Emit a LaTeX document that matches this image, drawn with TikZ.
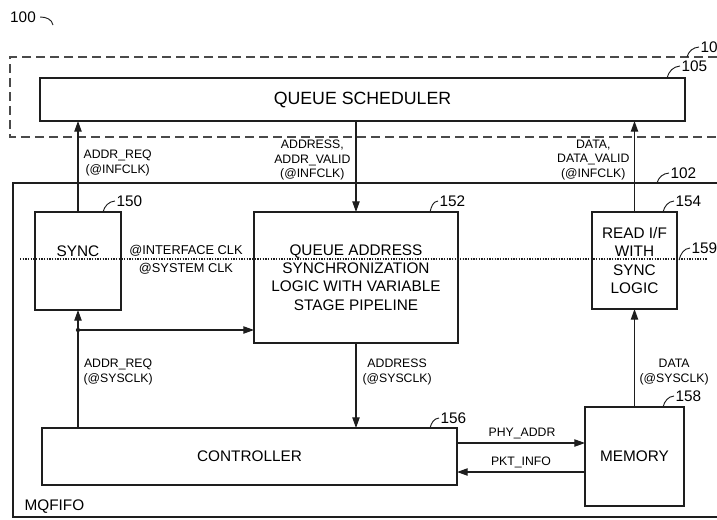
\documentclass[tikz,border=0pt]{standalone}
\usepackage{fontspec}
\setmainfont{Liberation Sans}
\usepackage{xcolor}
\definecolor{cLine}{HTML}{1E1E1E}
\definecolor{cFrame}{HTML}{4A4A4A}
\usetikzlibrary{arrows.meta}
\tikzset{
  node-box/.style={draw=cLine,line width=1.1pt,inner sep=0pt,outer sep=0pt,
    align=center,font=\fontsize{11.5}{13.8}\selectfont},
  node-text/.style={inner sep=1pt,align=center,font=\fontsize{11.5}{13.8}\selectfont},
  sz/.style 2 args={minimum width=#1*0.75pt,minimum height=#2*0.75pt},
  sig/.style={inner sep=1pt,align=center,font=\fontsize{9.2}{10.6}\selectfont},
  ref/.style={inner sep=1pt,font=\fontsize{11.5}{13.8}\selectfont},
  arrow/.style={-{Triangle[length=8pt,width=5.5pt]},line width=0.9pt,draw=cLine},
  leader/.style={line width=0.7pt,draw=cLine},
  frame/.style={line width=1.1pt,draw=cLine},
  frame-dash/.style={line width=1.1pt,draw=cFrame,dash pattern=on 6.5pt off 4pt},
  clockline/.style={line width=1.3pt,draw=cLine,dash pattern=on 1pt off 1pt},
}

\begin{document}
\begin{tikzpicture}[x=0.75pt,y=-0.75pt]
  \useasboundingbox (0,0) rectangle (717,519);
  % frames, both run off the right edge
  \draw[frame-dash] (717,57) -- (10,57) -- (10,137) -- (717,137);
  \draw[frame] (717,183) -- (13,183) -- (13,517) -- (717,517);
  \node[sig,anchor=west,font=\fontsize{11.5}{13.8}\selectfont] (mqfifo) at (23,507) {MQFIFO};

  % blocks
  \node[node-box,sz={645}{43},font=\fontsize{13.3}{16}\selectfont] (sched) at (362.5,99.5) {QUEUE SCHEDULER};
  \node[node-box,sz={86}{98}] (sync) at (78,261) {};
  \node[node-text] (sync-txt) at (78,251) {SYNC};
  \node[node-box,sz={204}{131}] (qasl) at (356,277.5)
    {QUEUE ADDRESS\\SYNCHRONIZATION\\LOGIC WITH VARIABLE\\STAGE PIPELINE};
  \node[node-box,sz={85}{97}] (readif) at (634.5,260.5) {READ I/F\\WITH\\SYNC\\LOGIC};
  \node[node-box,sz={415}{57}] (ctrl) at (249.5,456.5) {CONTROLLER};
  \node[node-box,sz={99}{99}] (mem) at (634.5,456.5) {MEMORY};

  % interface / system clock boundary
  \draw[clockline] (20,259) -- (707,259);
  \node[sig,font=\fontsize{9.6}{11}\selectfont] (infclk) at (186,251) {@INTERFACE CLK};
  \node[sig,font=\fontsize{9.6}{11}\selectfont] (sysclk) at (186,269) {@SYSTEM CLK};

  % signals
  \draw[arrow] (sync.north) -- (sync.north |- sched.south);
  \draw[arrow] (qasl.north |- sched.south) -- (qasl.north);
  \draw[arrow] (readif.north) -- (readif.north |- sched.south);
  \draw[arrow] (sync.south |- ctrl.north) -- (sync.south);
  \coordinate (split) at (78,330);
  \fill[cLine] (split) circle[radius=1.6pt];
  \draw[arrow] (split) -- (split -| qasl.west);
  \draw[arrow] (qasl.south) -- (qasl.south |- ctrl.north);
  \draw[arrow] (mem.north) -- (mem.north |- readif.south);
  \draw[arrow] (ctrl.east |- 0,443) -- (mem.west |- 0,443);
  \draw[arrow] (mem.west |- 0,472) -- (ctrl.east |- 0,472);

  \node[sig,anchor=west] (l-req-inf) at (82,163) {ADDR\_REQ\\(@INFCLK)};
  \node[sig,anchor=east] (l-addr-inf) at (352,160) {ADDRESS,\\ADDR\_VALID\\(@INFCLK)};
  \node[sig,anchor=east] (l-data-inf) at (631,160) {DATA,\\DATA\_VALID\\(@INFCLK)};
  \node[sig,anchor=west] (l-req-sys) at (82,372) {ADDR\_REQ\\(@SYSCLK)};
  \node[sig,anchor=west] (l-addr-sys) at (361,372) {ADDRESS\\(@SYSCLK)};
  \node[sig,anchor=west] (l-data-sys) at (638,372) {DATA\\(@SYSCLK)};
  \node[sig] (l-phy) at (522,433) {PHY\_ADDR};
  \node[sig] (l-pkt) at (521,462) {PKT\_INFO};

  % reference numerals
  \node[ref] (r100) at (23,17) {100};
  \draw[leader] ([xshift=2pt]r100.east) to[out=0,in=100] (53,25);
  \foreach \num/\sx/\sy/\tx/\ty in {10/687/57/699/47, 105/667/78/680/66,
      102/657/183/669/173, 150/103/212/115/201, 152/430/212/438/201,
      154/663/212/674/201, 156/430/428/439/418, 158/663/407/674/396,
      159/679/260/690/248} {
    \node[ref,anchor=west] (r\num) at (\tx,\ty) {\num};
    \draw[leader] (\sx,\sy) to[out=75,in=185] (r\num.west);
  }
\end{tikzpicture}
\end{document}
